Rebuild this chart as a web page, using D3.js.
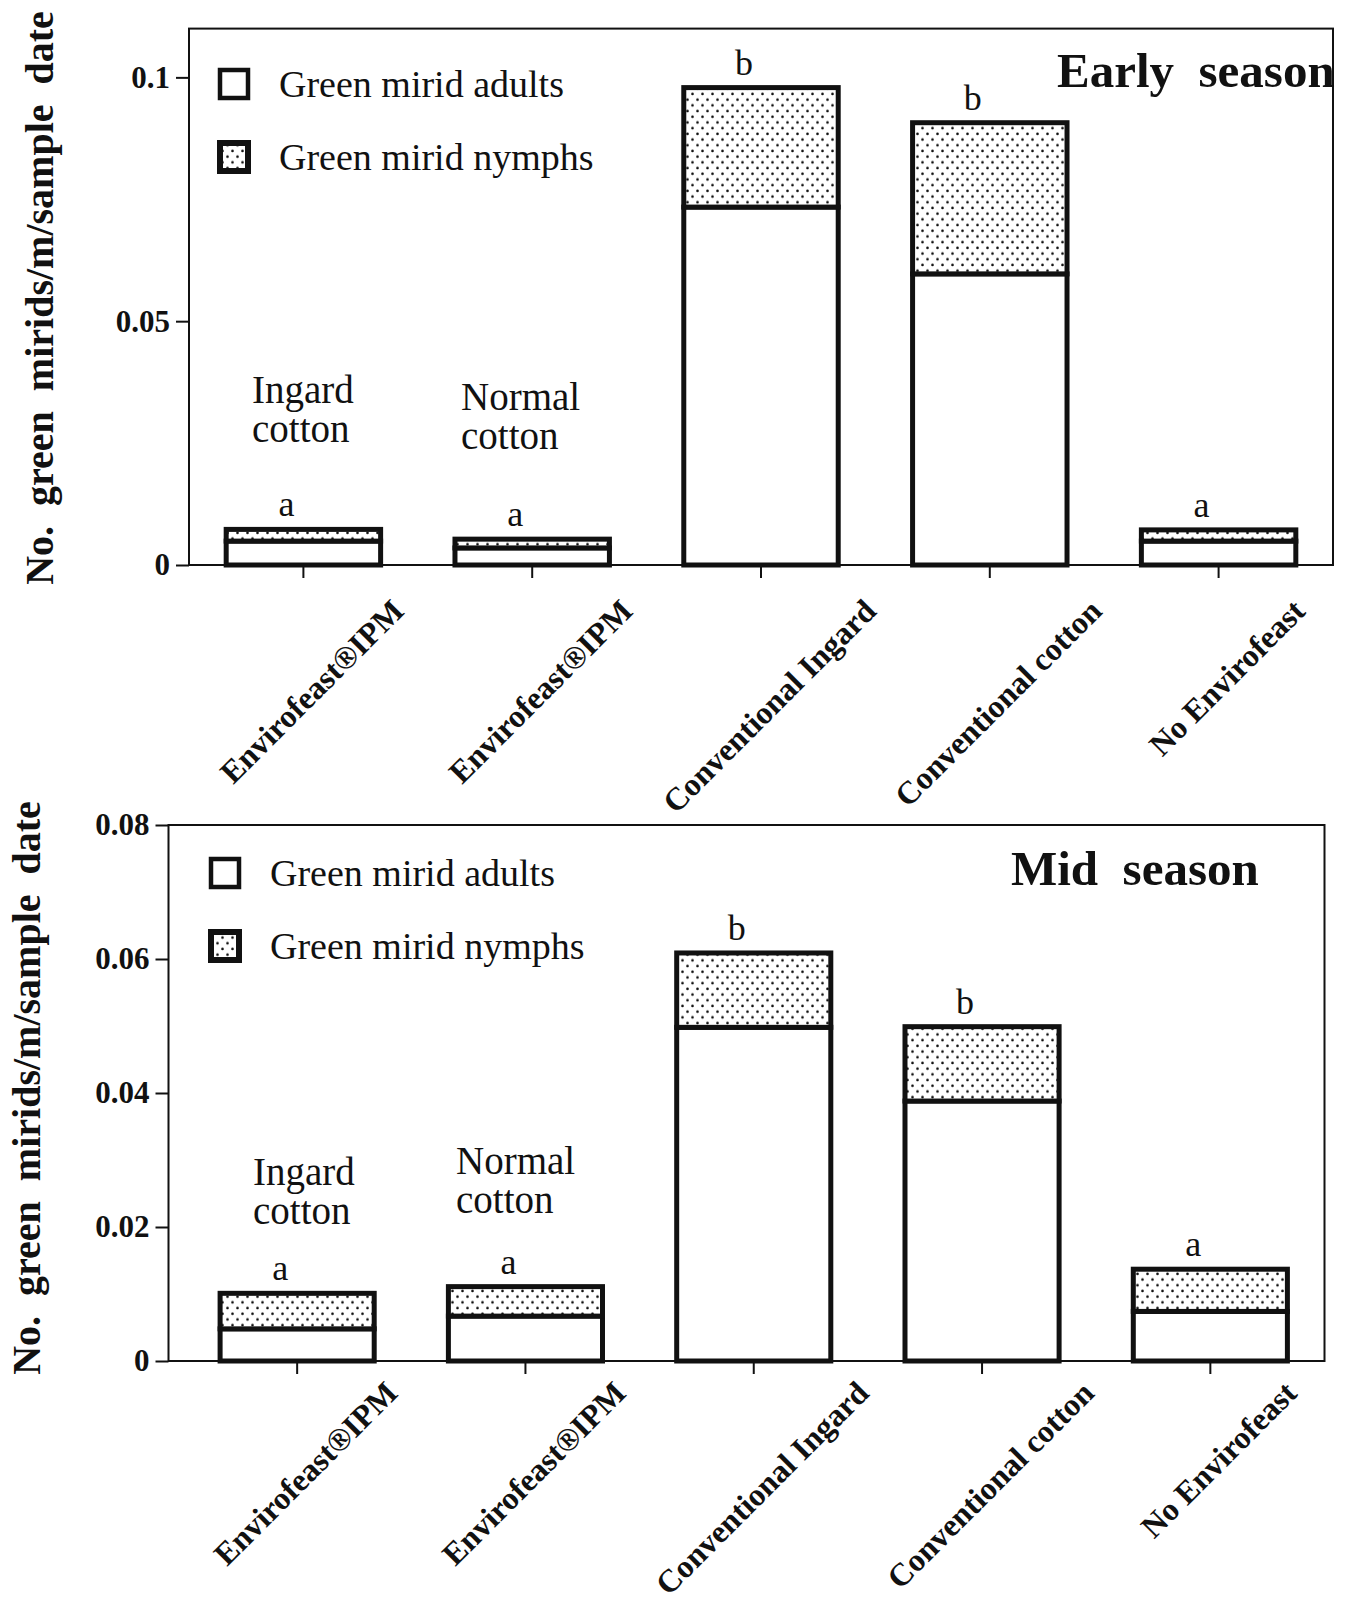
<!DOCTYPE html>
<html>
<head>
<meta charset="utf-8">
<script src="https://cdn.jsdelivr.net/npm/d3@7"></script>
<style>
  body { margin: 0; background: #fff; }
  text { font-family: "Liberation Serif", "Times New Roman", serif; fill: #111; white-space: pre; }
</style>
</head>
<body>
<svg width="1347" height="1601"></svg>
<script>
// treatments along x (same label appears twice, so bands are keyed by index)
const treatments = ["Envirofeast®IPM", "Envirofeast®IPM", "Conventional Ingard", "Conventional cotton", "No Envirofeast"];
const cropNotes = [["Ingard", "cotton"], ["Normal", "cotton"]];
const seriesNames = ["Green mirid adults", "Green mirid nymphs"];

// early season
const earlyAdults  = [0.0049, 0.0035, 0.0734, 0.0597, 0.0049];
const earlyNymphs  = [0.0024, 0.0018, 0.0245, 0.0310, 0.0023];
const earlyLetters = ["a", "a", "b", "b", "a"];
const earlyTicks   = [0, 0.05, 0.1];

// mid season
const midAdults  = [0.0048, 0.0067, 0.0498, 0.0388, 0.0074];
const midNymphs  = [0.0053, 0.0044, 0.0111, 0.0111, 0.0063];
const midLetters = ["a", "a", "b", "b", "a"];
const midTicks   = [0, 0.02, 0.04, 0.06, 0.08];

const yTitle = "No.  green  mirids/m/sample  date";

const svg = d3.select("svg");

//dot pattern for nymphs
const defs = svg.append("defs");
const pat = defs.append("pattern")
  .attr("id", "dots")
  .attr("patternUnits", "userSpaceOnUse")
  .attr("width", 10).attr("height", 11.4);
pat.append("rect").attr("width", 10).attr("height", 11.4).attr("fill", "#fff");
pat.append("circle").attr("cx", 2.5).attr("cy", 2.8).attr("r", 1.3).attr("fill", "#111");
pat.append("circle").attr("cx", 7.5).attr("cy", 8.5).attr("r", 1.3).attr("fill", "#111");

function drawPanel(p) {
  const g = svg.append("g");

  const x = d3.scaleBand()
    .domain(d3.range(treatments.length))
    .range([p.bandLeft, p.right])
    .paddingInner(0.325).paddingOuter(0.1625);

  const y = d3.scaleLinear()
    .domain(p.domain)
    .range([p.bottom, p.top]);

  // frame
  g.append("rect")
    .attr("x", p.left).attr("y", p.top)
    .attr("width", p.right - p.left).attr("height", p.bottom - p.top)
    .attr("fill", "none").attr("stroke", "#111").attr("stroke-width", 2);

  // y axis
  const ya = g.append("g")
    .attr("transform", `translate(${p.left},0)`)
    .call(d3.axisLeft(y).tickValues(p.ticks).tickSize(13).tickPadding(6)
      .tickFormat(d => d === 0 ? "0" : String(d)));
  ya.select(".domain").remove();
  ya.selectAll("line").attr("stroke", "#111").attr("stroke-width", 2);
  ya.selectAll("text")
    .attr("font-family", "Liberation Serif").attr("font-size", 31)
    .attr("font-weight", "bold").attr("fill", "#111");

  // x ticks
  const xa = g.append("g")
    .attr("transform", `translate(0,${p.bottom})`)
    .call(d3.axisBottom(x).tickSize(13).tickFormat(""));
  xa.select(".domain").remove();
  xa.selectAll("line").attr("stroke", "#111").attr("stroke-width", 2);

  // stacked bars
  const bars = g.append("g").selectAll("g")
    .data(treatments.map((t, i) => ({ i, a: p.adults[i], n: p.nymphs[i], letter: p.letters[i] })))
    .join("g");

  bars.append("rect")
    .attr("x", d => x(d.i)).attr("width", x.bandwidth())
    .attr("y", d => y(d.a)).attr("height", d => y(0) - y(d.a))
    .attr("fill", "#fff").attr("stroke", "#111").attr("stroke-width", 5);

  bars.append("rect")
    .attr("x", d => x(d.i)).attr("width", x.bandwidth())
    .attr("y", d => y(d.a + d.n)).attr("height", d => y(d.a) - y(d.a + d.n))
    .attr("fill", "url(#dots)").attr("stroke", "#111").attr("stroke-width", 5);

  // significance letters
  bars.append("text")
    .attr("x", d => x(d.i) + x.bandwidth() / 2 - 17)
    .attr("y", d => y(d.a + d.n) - 13)
    .attr("text-anchor", "middle")
    .attr("font-size", 36)
    .text(d => d.letter);

  // rotated treatment labels, centred under each tick
  g.append("g").selectAll("text")
    .data(treatments)
    .join("text")
    .attr("font-size", 32).attr("font-weight", "bold")
    .attr("text-anchor", "end")
    .attr("dy", "0.35em")
    .text(d => d)
    .attr("transform", function (d, i) {
      const len = this.getComputedTextLength();
      const cx = x(i) + x.bandwidth() / 2;
      return `translate(${cx + len / (2 * Math.SQRT2) + 8},${p.bottom + p.labelDrop}) rotate(-45)`;
    });

  // legend
  const lg = g.append("g");
  seriesNames.forEach((s, i) => {
    lg.append("rect")
      .attr("x", p.legX).attr("y", p.legY + i * 73)
      .attr("width", 28).attr("height", 28)
      .attr("fill", i === 0 ? "#fff" : "url(#dots)")
      .attr("stroke", "#111").attr("stroke-width", i === 0 ? 4.5 : 6);
    lg.append("text")
      .attr("x", p.legX + 59).attr("y", p.legY + i * 73 + 27)
      .attr("font-size", 38)
      .text(s);
  });

  // season title
  g.append("text")
    .attr("x", p.titleX).attr("y", p.titleY)
    .attr("font-size", 49).attr("font-weight", "bold")
    .text(p.title);

  // crop notes
  cropNotes.forEach((lines, i) => {
    const t = g.append("text")
      .attr("x", p.noteX[i]).attr("y", p.noteY[i])
      .attr("font-size", 39);
    lines.forEach((ln, k) => t.append("tspan")
      .attr("x", p.noteX[i]).attr("dy", k === 0 ? 0 : 39).text(ln));
  });

  // y title
  g.append("text")
    .attr("transform", `translate(${p.yTitleX},${p.yTitleY}) rotate(-90)`)
    .attr("text-anchor", "middle")
    .attr("font-size", 40).attr("font-weight", "bold")
    .text(yTitle);
}

drawPanel({
  left: 189, right: 1333, top: 28.6, bottom: 565, bandLeft: 189,
  domain: [0, 0.11], ticks: earlyTicks,
  adults: earlyAdults, nymphs: earlyNymphs, letters: earlyLetters,
  legX: 220, legY: 70, title: "Early  season", titleX: 1057, titleY: 87,
  noteX: [252, 461], noteY: [403, 410], yTitleX: 53, yTitleY: 298, labelDrop: 40
});

drawPanel({
  left: 168.5, right: 1324.5, top: 825, bottom: 1361, bandLeft: 183,
  domain: [0, 0.08], ticks: midTicks,
  adults: midAdults, nymphs: midNymphs, letters: midLetters,
  legX: 211, legY: 859, title: "Mid  season", titleX: 1011, titleY: 885,
  noteX: [253, 456], noteY: [1185, 1174], yTitleX: 40, yTitleY: 1088, labelDrop: 26
});
</script>
</body>
</html>
